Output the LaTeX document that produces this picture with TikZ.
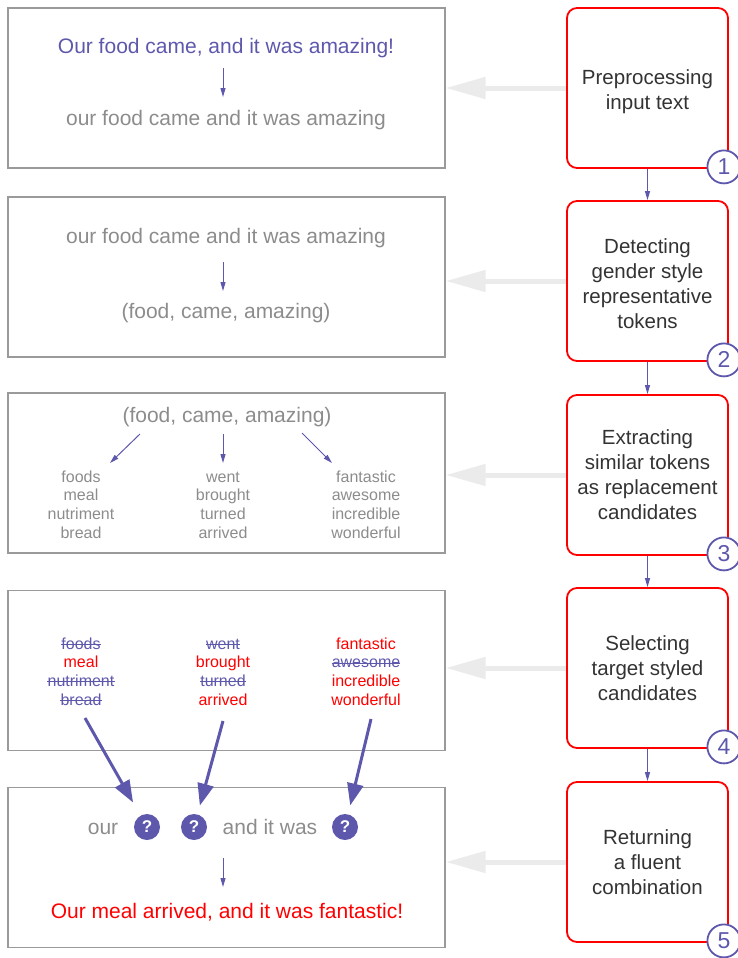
\documentclass[tikz,border=0pt]{standalone}
\usepackage{fontspec}
\setmainfont{Liberation Sans}
\usetikzlibrary{arrows.meta,calc}
\definecolor{pur}{HTML}{5E58AD}
\definecolor{txtgray}{HTML}{8C8C8C}
\definecolor{boxgray}{HTML}{9A9A9A}
\definecolor{arrgray}{HTML}{EBEBEB}
\definecolor{dark}{HTML}{333333}
\begin{document}
\begin{tikzpicture}[x=1pt,y=-1pt,
  leftbox/.style={draw=boxgray, line width=1.4pt, minimum width=437pt, minimum height=160pt, inner sep=0pt},
  stepbox/.style={draw=red, line width=1.8pt, rounded corners=10pt, minimum width=161pt, minimum height=160pt, inner sep=0pt},
  steptext/.style={align=center, text=dark, inner sep=0pt, font=\fontsize{20.5}{25}\selectfont},
  numc/.style={circle, draw=pur, fill=white, line width=1.8pt, minimum size=33pt, inner sep=0pt, text=pur, font=\fontsize{23}{23}\selectfont},
  big/.style={anchor=base, inner sep=0pt, font=\fontsize{21}{24}\selectfont},
  word/.style={anchor=base, inner sep=0pt, text=txtgray, font=\fontsize{16}{18}\selectfont},
  struck/.style={word, text=pur},
  kept/.style={word, text=red},
  strikeline/.style={draw=pur, line width=0.9pt},
  thin/.style={draw=pur, line width=1pt, -{Triangle[length=9pt,width=5pt]}},
  thick/.style={draw=pur, line width=3pt, -{Triangle[length=22pt,width=16pt]}},
  grayarrow/.style={draw=arrgray, line width=5pt, -{Triangle[length=40pt,width=21pt]}},
  qc/.style={circle, fill=pur, minimum size=26pt, inner sep=0pt, text=white, font=\bfseries\fontsize{17}{17}\selectfont}
]
\useasboundingbox (0,0) rectangle (738,958);

% left boxes
\node[leftbox] (l1) at (226.5,88) {};
\node[leftbox] (l2) at (226.5,277) {};
\node[leftbox] (l3) at (226.5,473) {};
\node[leftbox] (l4) at (226.5,670.5) {};
\node[leftbox] (l5) at (226.5,867.5) {};

% right step boxes
\node[stepbox] (s1) at (647.5,88) {};
\node[stepbox] (s2) at (647.5,281) {};
\node[stepbox] (s3) at (647.5,475) {};
\node[stepbox] (s4) at (647.5,668) {};
\node[stepbox] (s5) at (647.5,862) {};
\node[steptext] (s1t) at ($(s1.center)+(0,4)$) {Preprocessing\\input text};
\node[steptext] (s2t) at ($(s2.center)+(0,2.5)$) {Detecting\\gender style\\representative\\tokens};
\node[steptext] (s3t) at ($(s3.center)+(0,-0.5)$) {Extracting\\similar tokens\\as replacement\\candidates};
\node[steptext] (s4t) at ($(s4.center)+(0,0)$) {Selecting\\target styled\\candidates};
\node[steptext] (s5t) at ($(s5.center)+(0,0)$) {Returning\\a fluent\\combination};

\draw[thin] (s1.south) -- (s2.north);
\draw[thin] (s2.south) -- (s3.north);
\draw[thin] (s3.south) -- (s4.north);
\draw[thin] (s4.south) -- (s5.north);

\foreach \k in {1,...,5} {
  \node[numc] (n\k) at ($(s\k.south east)+(-5,-2)$) {\k};
}

% gray arrows
\draw[grayarrow] (s1.west) -- (s1.west -| l1.east);
\draw[grayarrow] (s2.west) -- (s2.west -| l2.east);
\draw[grayarrow] (s3.west) -- (s3.west -| l3.east);
\draw[grayarrow] (s4.west) -- (s4.west -| l4.east);
\draw[grayarrow] (s5.west) -- (s5.west -| l5.east);

% box 1
\node[big, text=pur] (t1a) at (226,53) {Our food came, and it was amazing!};
\node[big, text=txtgray] (t1b) at (226,125) {our food came and it was amazing};
\draw[thin] (223,68) coordinate (a1s) -- (223,97) coordinate (a1e);

% box 2
\node[big, text=txtgray] (t2a) at (226,243) {our food came and it was amazing};
\node[big, text=txtgray] (t2b) at (226,318) {(food, came, amazing)};
\draw[thin] (223,262) coordinate (a2s) -- (223,291) coordinate (a2e);

% box 3
\node[big, text=txtgray] (t3) at (227,422) {(food, came, amazing)};
\coordinate (b1s) at (140,434); \coordinate (b1e) at (110,463);
\coordinate (b2s) at (223,434); \coordinate (b2e) at (223,463);
\coordinate (b3s) at (302,433); \coordinate (b3e) at (332,463);
\draw[thin] (b1s) -- (b1e);
\draw[thin] (b2s) -- (b2e);
\draw[thin] (b3s) -- (b3e);
\foreach \w [count=\i] in {foods,meal,nutriment,bread}
  \node[word] (p\i) at (81,{482+18.7*(\i-1)}) {\w};
\foreach \w [count=\i] in {went,brought,turned,arrived}
  \node[word] (q\i) at (223,{482+18.7*(\i-1)}) {\w};
\foreach \w [count=\i] in {fantastic,awesome,incredible,wonderful}
  \node[word] (r\i) at (366,{482+18.7*(\i-1)}) {\w};

% box 4
\node[struck] (u1) at (81,649) {foods};
\node[kept] (u2) at (81,667.7) {meal};
\node[struck] (u3) at (81,686.4) {nutriment};
\node[struck] (u4) at (81,705.1) {bread};
\node[struck] (v1) at (223,649) {went};
\node[kept] (v2) at (223,667.7) {brought};
\node[struck] (v3) at (223,686.4) {turned};
\node[kept] (v4) at (223,705.1) {arrived};
\node[kept] (w1) at (366,649) {fantastic};
\node[struck] (w2) at (366,667.7) {awesome};
\node[kept] (w3) at (366,686.4) {incredible};
\node[kept] (w4) at (366,705.1) {wonderful};
\foreach \n in {u1,u3,u4,v1,v3,w2}
  \draw[strikeline] ($(\n.base west)+(0,-4.5)$) -- ($(\n.base east)+(0,-4.5)$);

% box 5
\node[big, text=txtgray] (o1) at (103,834) {our};
\node[qc] (qm1) at (147,827) {?};
\node[qc] (qm2) at (194,827) {?};
\node[big, text=txtgray] (o2) at (270,834) {and it was};
\node[qc] (qm3) at (345,827) {?};
\draw[thin] (223,858) coordinate (a5s) -- (223,887) coordinate (a5e);
\node[big, text=red] (t5) at (227,918) {Our meal arrived, and it was fantastic!};

% thick arrows
\coordinate (c1) at (85,718);
\coordinate (c2) at (223,721);
\coordinate (c3) at (371,719);
\draw[thick, shorten >=15pt] (c1) -- (qm1);
\draw[thick, shorten >=9pt] (c2) -- (qm2);
\draw[thick, shorten >=9pt] (c3) -- (qm3);
\end{tikzpicture}
\end{document}
